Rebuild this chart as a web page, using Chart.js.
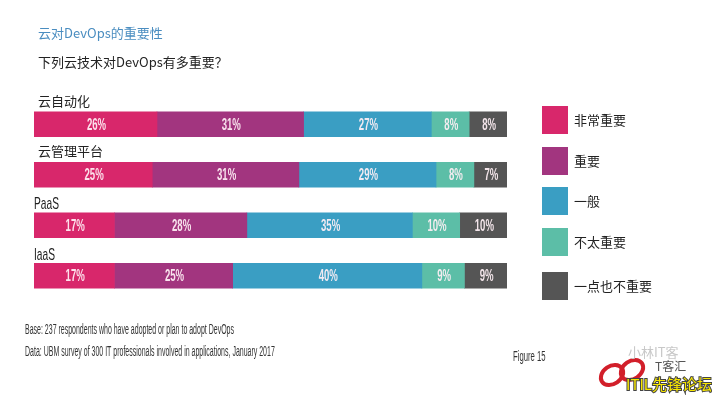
<!DOCTYPE html>
<html>
<head>
<meta charset="utf-8">
<script src="https://cdn.jsdelivr.net/npm/chart.js"></script>
<style>
  html, body { margin: 0; padding: 0; background: #fff; }
  #wrap { position: relative; width: 712px; height: 395px; }
</style>
</head>
<body>
<div id="wrap"><canvas id="myChart" width="712" height="395"></canvas></div>
<script>
// 数据
const categories = ['云自动化', '云管理平台', 'PaaS', 'IaaS'];
const seriesNames = ['非常重要', '重要', '一般', '不太重要', '一点也不重要'];
const veryImportant = [26, 25, 17, 17];
const important = [31, 31, 28, 25];
const neutral = [27, 29, 35, 40];
const notVery = [8, 8, 10, 9];
const notAtAll = [8, 7, 10, 9];
const colors = ['#d8276b', '#a2357f', '#3a9ec3', '#5cbea7', '#555555'];

const titleText = '云对DevOps的重要性';
const subtitleText = '下列云技术对DevOps有多重要？';
const footLines = [
    'Base: 237 respondents who have adopted or plan to adopt DevOps',
    'Data: UBM survey of 300 IT professionals involved in applications, January 2017'
];

const sans = '"Liberation Sans", Arial, sans-serif';
const cjk = '"Noto Sans CJK SC", "Noto Sans", sans-serif';

const allSeries = [veryImportant, important, neutral, notVery, notAtAll];

// 窄体文字：横向压缩
function narrowText(ctx, text, x, y, sx) {
    ctx.save();
    ctx.translate(x, y);
    ctx.scale(sx, 1);
    ctx.fillText(text, 0, 0);
    ctx.restore();
}

// 额外绘制：标题、分类标签、数值、图例、脚注
const extras = {
    id: 'extras',
    afterDatasetsDraw(chart) {
        const ctx = chart.ctx;
        const yScale = chart.scales.y;
        ctx.save();

        // 数值标签
        ctx.fillStyle = 'rgba(255,240,245,0.93)';
        ctx.font = 'bold 16px ' + sans;
        ctx.textAlign = 'center';
        ctx.textBaseline = 'middle';
        chart.data.datasets.forEach((ds, di) => {
            const meta = chart.getDatasetMeta(di);
            meta.data.forEach((bar, i) => {
                const cx = (bar.x + bar.base) / 2;
                narrowText(ctx, ds.data[i] + '%', cx + 1, bar.y + 1, 0.6);
            });
        });

        // 分类标签（条形上方）
        ctx.textAlign = 'left';
        ctx.textBaseline = 'bottom';
        ctx.fillStyle = '#222';
        categories.forEach((c, i) => {
            const y = yScale.getPixelForValue(i) - 13;
            if (/^[A-Za-z]+$/.test(c)) {
                ctx.font = '17px ' + sans;
                narrowText(ctx, c, 34, y + 1, 0.6);
            } else {
                ctx.font = '13px ' + cjk;
                ctx.fillText(c, 38, y - 4);
            }
        });

        // 标题
        ctx.textBaseline = 'middle';
        ctx.font = '13px ' + cjk;
        ctx.fillStyle = '#4a8dc0';
        ctx.fillText(titleText, 38, 33);
        ctx.fillStyle = '#222';
        ctx.fillText(subtitleText, 38, 62);

        // 图例
        const legendTop = [106, 147, 187, 228, 272];
        seriesNames.forEach((name, i) => {
            ctx.fillStyle = colors[i];
            ctx.fillRect(542, legendTop[i], 26, 28);
            ctx.fillStyle = '#222';
            ctx.font = '13px ' + cjk;
            ctx.fillText(name, 574, legendTop[i] + 14);
        });

        // 脚注
        ctx.fillStyle = '#333';
        ctx.font = '14px ' + sans;
        narrowText(ctx, footLines[0], 25, 330, 0.5);
        narrowText(ctx, footLines[1], 25, 352, 0.5);
        ctx.font = '14px ' + sans;
        narrowText(ctx, 'Figure 15', 513, 357, 0.55);

        // 水印
        ctx.strokeStyle = '#d21f2a';
        ctx.lineWidth = 4;
        ctx.beginPath();
        ctx.ellipse(612, 375, 12, 9, -0.6, 0, Math.PI * 2);
        ctx.stroke();
        ctx.beginPath();
        ctx.ellipse(632, 370, 12, 9, -0.6, 0, Math.PI * 2);
        ctx.stroke();
        ctx.fillStyle = '#c8c8c8';
        ctx.font = '13px ' + cjk;
        ctx.fillText('小林IT客', 628, 352);
        ctx.fillStyle = '#555';
        ctx.font = '12px ' + cjk;
        ctx.fillText('T客汇', 655, 366);
        ctx.font = '15px ' + cjk;
        ctx.lineWidth = 2;
        ctx.strokeStyle = '#444';
        ctx.strokeText('ITIL先锋论坛', 626, 384);
        ctx.fillStyle = '#f7e600';
        ctx.fillText('ITIL先锋论坛', 626, 384);

        ctx.restore();
    }
};

const ctx = document.getElementById('myChart').getContext('2d');
new Chart(ctx, {
    type: 'bar',
    data: {
        labels: categories,
        datasets: allSeries.map((vals, i) => ({
            label: seriesNames[i],
            data: vals,
            backgroundColor: colors[i],
            borderWidth: 0,
            barThickness: 25
        }))
    },
    options: {
        indexAxis: 'y',
        responsive: false,
        animation: false,
        layout: { padding: { left: 34, right: 205, top: 99, bottom: 94 } },
        scales: {
            x: { stacked: true, min: 0, max: 100, display: false },
            y: { stacked: true, display: false }
        },
        plugins: {
            legend: { display: false },
            tooltip: { enabled: false }
        }
    },
    plugins: [extras]
});
</script>
</body>
</html>
